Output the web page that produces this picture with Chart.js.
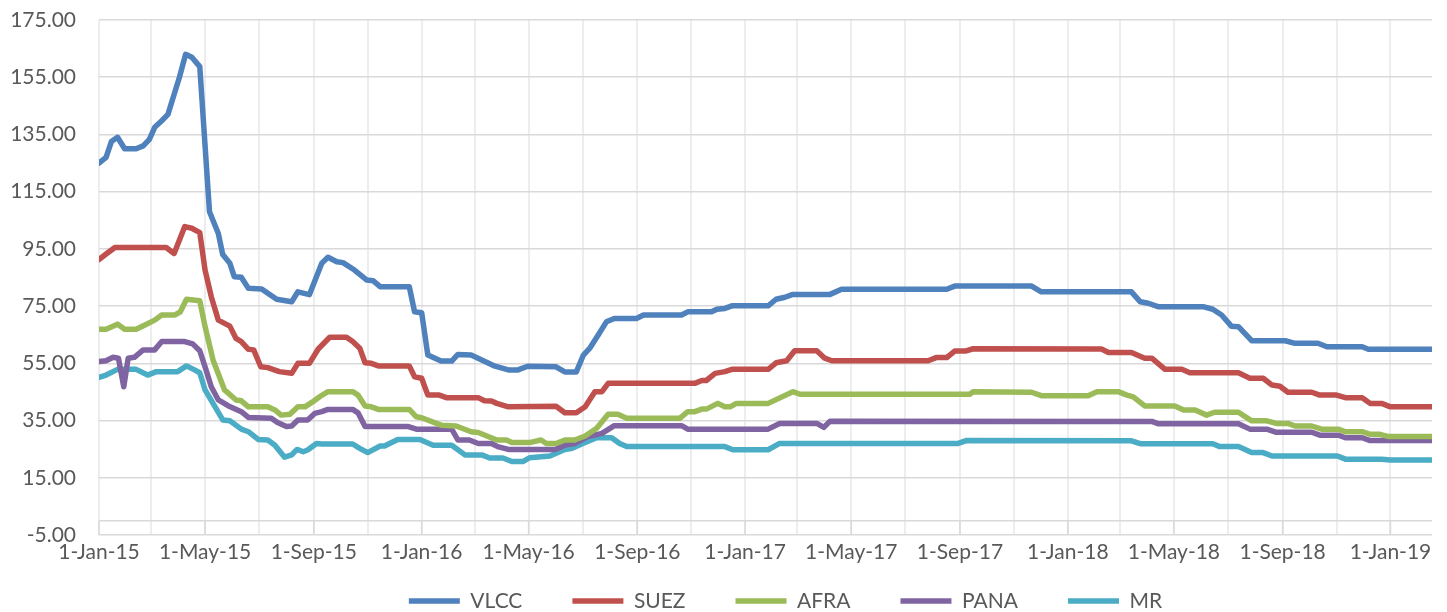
<!DOCTYPE html>
<html>
<head>
<meta charset="utf-8">
<title>Tanker rates</title>
<script src="https://cdn.jsdelivr.net/npm/chart.js@4.4.1/dist/chart.umd.min.js"></script>
<style>
  html, body { margin: 0; padding: 0; background: #fff; }
</style>
</head>
<body>
<canvas id="rateChart" width="1447" height="612"></canvas>
<script>
// Series: [date, value]
const vlcc = [
  ['2015-01-01',125],['2015-01-09',127],['2015-01-15',132.5],['2015-01-22',134],['2015-01-30',130],['2015-02-12',130],
  ['2015-02-20',131],['2015-02-27',133.3],['2015-03-05',137.5],['2015-03-13',139.8],['2015-03-20',142],['2015-03-28',150],
  ['2015-04-02',155],['2015-04-09',163],['2015-04-16',162],['2015-04-25',158.7],['2015-05-06',108],['2015-05-16',100.4],
  ['2015-05-21',93],['2015-05-29',90],['2015-06-03',85.3],['2015-06-11',85.1],['2015-06-19',81.2],['2015-07-04',81],
  ['2015-07-11',79.5],['2015-07-21',77.4],['2015-08-07',76.5],['2015-08-14',80],['2015-08-27',79],['2015-09-10',90],
  ['2015-09-17',92.1],['2015-09-27',90.5],['2015-10-04',90.2],['2015-10-17',87.6],['2015-10-31',84.1],['2015-11-07',83.9],
  ['2015-11-15',81.8],['2015-12-18',81.8],['2015-12-24',73],['2016-01-01',72.7],['2016-01-08',57.9],['2016-01-23',55.8],
  ['2016-02-04',55.8],['2016-02-11',58.1],['2016-02-26',57.9],['2016-03-24',54],['2016-04-08',52.7],['2016-04-19',52.7],
  ['2016-04-30',54],['2016-06-01',53.8],['2016-06-11',52],['2016-06-24',52],['2016-07-02',57.9],['2016-07-09',60.2],
  ['2016-07-20',65.5],['2016-07-28',69.5],['2016-08-06',70.7],['2016-08-31',70.7],['2016-09-08',71.9],['2016-10-21',71.9],
  ['2016-10-28',73],['2016-11-24',73],['2016-11-30',73.9],['2016-12-09',74.2],['2016-12-17',75.1],['2017-01-27',75.1],
  ['2017-02-05',77.4],['2017-02-15',78.1],['2017-02-24',79.1],['2017-04-07',79.1],['2017-04-20',80.9],['2017-08-17',80.9],
  ['2017-08-26',82],['2017-11-21',82],['2017-12-02',80],['2018-03-14',80],['2018-03-24',76.5],['2018-04-02',76],
  ['2018-04-13',74.8],['2018-06-03',74.8],['2018-06-14',73.9],['2018-06-24',71.9],['2018-07-05',68],['2018-07-13',67.8],
  ['2018-07-28',62.9],['2018-09-04',62.9],['2018-09-15',62],['2018-10-11',62],['2018-10-21',60.8],['2018-11-30',60.8],
  ['2018-12-07',59.9],['2019-02-17',59.9]
];

const suez = [
  ['2015-01-01',91.3],['2015-01-09',93.2],['2015-01-19',95.5],['2015-03-18',95.5],['2015-03-27',93.4],['2015-04-08',102.8],
  ['2015-04-16',102.2],['2015-04-25',100.7],['2015-05-01',87.6],['2015-05-08',78.3],['2015-05-16',70.1],['2015-05-29',68],
  ['2015-06-05',63.7],['2015-06-11',62.6],['2015-06-19',59.9],['2015-06-25',59.7],['2015-07-03',53.8],['2015-07-11',53.5],
  ['2015-07-24',52.1],['2015-08-07',51.5],['2015-08-14',55],['2015-08-27',55],['2015-09-06',60],['2015-09-19',64.1],
  ['2015-10-08',64.1],['2015-10-15',62.6],['2015-10-23',60.3],['2015-10-29',55.2],['2015-11-05',55],['2015-11-13',54.1],
  ['2015-12-18',54.1],['2015-12-24',50.3],['2016-01-01',49.8],['2016-01-08',43.9],['2016-01-21',43.9],['2016-01-29',43],
  ['2016-03-05',43],['2016-03-12',41.9],['2016-03-20',41.8],['2016-03-26',41],['2016-04-08',39.8],['2016-06-01',40],
  ['2016-06-11',37.7],['2016-06-24',37.7],['2016-07-04',39.8],['2016-07-15',45.1],['2016-07-23',45.1],['2016-07-30',48],
  ['2016-11-05',48],['2016-11-13',49],['2016-11-18',49],['2016-11-28',51.5],['2016-12-09',52.1],['2016-12-17',52.9],
  ['2017-01-27',52.9],['2017-02-05',55.2],['2017-02-17',55.9],['2017-02-26',59.4],['2017-03-23',59.4],['2017-04-01',56.8],
  ['2017-04-09',55.9],['2017-07-27',55.9],['2017-08-05',57],['2017-08-17',57],['2017-08-26',59.3],['2017-09-07',59.3],
  ['2017-09-16',60.1],['2018-02-08',60],['2018-02-16',58.8],['2018-03-14',58.8],['2018-03-29',56.8],['2018-04-06',56.8],
  ['2018-04-21',52.9],['2018-05-10',52.9],['2018-05-19',51.7],['2018-07-13',51.7],['2018-07-26',49.8],['2018-08-10',49.8],
  ['2018-08-20',47.4],['2018-08-29',47],['2018-09-07',44.9],['2018-10-04',44.9],['2018-10-13',43.9],['2018-11-01',43.9],
  ['2018-11-11',43],['2018-11-30',43],['2018-12-09',41],['2018-12-22',41],['2019-01-01',39.8],['2019-02-17',39.8]
];

const afra = [
  ['2015-01-01',66.9],['2015-01-09',66.9],['2015-01-22',68.7],['2015-01-30',66.9],['2015-02-12',66.9],['2015-02-22',68.4],
  ['2015-03-05',70.1],['2015-03-13',71.9],['2015-03-28',71.9],['2015-04-03',73],['2015-04-10',77.4],['2015-04-25',76.9],
  ['2015-05-01',67.8],['2015-05-10',56.2],['2015-05-23',45.7],['2015-06-05',42.2],['2015-06-11',41.9],['2015-06-19',39.8],
  ['2015-07-11',39.8],['2015-07-19',38.7],['2015-07-26',36.9],['2015-08-05',37.2],['2015-08-14',39.8],['2015-08-22',39.8],
  ['2015-08-31',41.6],['2015-09-08',43.4],['2015-09-17',45.1],['2015-10-15',45.1],['2015-10-21',43.9],['2015-10-29',40.1],
  ['2015-11-05',39.8],['2015-11-13',38.9],['2015-12-18',38.9],['2015-12-26',36.3],['2016-01-01',36],['2016-01-23',33.4],
  ['2016-02-09',33.1],['2016-02-26',31.1],['2016-03-05',30.8],['2016-03-26',28.2],['2016-04-06',28.2],['2016-04-12',27.3],
  ['2016-05-02',27.3],['2016-05-15',28.2],['2016-05-21',27],['2016-06-01',27],['2016-06-11',28.2],['2016-06-22',28.2],
  ['2016-07-04',29.6],['2016-07-17',32.3],['2016-07-30',37.2],['2016-08-10',37.2],['2016-08-20',35.8],['2016-10-19',35.8],
  ['2016-10-28',38.1],['2016-11-05',38.1],['2016-11-13',39],['2016-11-18',39],['2016-12-01',41],['2016-12-09',39.8],
  ['2016-12-15',39.8],['2016-12-22',41],['2017-01-27',41],['2017-02-24',45.1],['2017-03-04',44.2],['2017-09-12',44.2],
  ['2017-09-16',45.1],['2017-11-21',44.9],['2017-12-02',43.7],['2018-01-24',43.7],['2018-02-03',45.1],['2018-02-27',45.1],
  ['2018-03-09',43.9],['2018-03-16',43.3],['2018-03-29',40.1],['2018-05-02',40.1],['2018-05-12',38.7],['2018-05-25',38.7],
  ['2018-06-07',36.9],['2018-06-16',37.9],['2018-07-13',37.9],['2018-07-28',34.9],['2018-08-14',34.9],['2018-08-25',34],
  ['2018-09-07',34],['2018-09-15',33.1],['2018-10-04',33.1],['2018-10-15',32],['2018-11-03',32],['2018-11-11',31.1],
  ['2018-11-30',31.1],['2018-12-09',30.2],['2018-12-20',30.2],['2018-12-30',29.4],['2019-02-17',29.4]
];

const pana = [
  ['2015-01-01',55.6],['2015-01-09',55.9],['2015-01-17',57.1],['2015-01-23',56.8],['2015-01-29',46.8],['2015-02-03',56.8],
  ['2015-02-10',57.1],['2015-02-20',59.7],['2015-03-05',59.7],['2015-03-13',62.6],['2015-04-08',62.6],['2015-04-17',61.8],
  ['2015-04-25',59.4],['2015-05-01',53.8],['2015-05-08',46.8],['2015-05-16',42.2],['2015-05-27',40.2],['2015-06-11',38.1],
  ['2015-06-19',36.1],['2015-07-15',35.8],['2015-07-22',34.3],['2015-08-01',32.9],['2015-08-07',33.1],['2015-08-14',35.2],
  ['2015-08-25',35.2],['2015-09-02',37.5],['2015-09-10',38.1],['2015-09-17',38.9],['2015-10-15',38.9],['2015-10-21',37.7],
  ['2015-10-29',32.9],['2015-12-17',32.9],['2015-12-26',32],['2016-02-04',32],['2016-02-11',28.2],['2016-02-24',28.2],
  ['2016-03-05',27],['2016-03-20',27],['2016-03-27',25.9],['2016-04-08',24.9],['2016-05-31',24.9],['2016-06-11',26.4],
  ['2016-06-22',27],['2016-07-07',29.4],['2016-07-23',30.5],['2016-08-06',33.2],['2016-10-21',33.2],['2016-10-28',32],
  ['2017-01-27',32],['2017-02-09',34],['2017-03-23',34],['2017-03-31',32.6],['2017-04-07',34.8],['2018-04-06',34.7],
  ['2018-04-13',33.9],['2018-07-13',33.9],['2018-07-26',32],['2018-08-14',32],['2018-08-25',30.9],['2018-10-04',30.9],
  ['2018-10-13',29.9],['2018-11-03',29.9],['2018-11-11',29],['2018-11-30',29],['2018-12-09',28],['2019-02-17',28]
];

const mr = [
  ['2015-01-01',50.1],['2015-01-09',50.9],['2015-01-22',52.9],['2015-02-12',52.9],['2015-02-25',50.9],['2015-03-07',52.1],
  ['2015-03-31',52.1],['2015-04-10',54.1],['2015-04-19',52.7],['2015-04-25',51.7],['2015-05-01',45.7],['2015-05-10',41],
  ['2015-05-21',35.2],['2015-05-29',34.9],['2015-06-11',32],['2015-06-19',31.1],['2015-06-30',28.4],['2015-07-11',28.2],
  ['2015-07-19',26.4],['2015-07-30',22.2],['2015-08-07',23],['2015-08-13',24.9],['2015-08-20',24.1],['2015-08-25',24.7],
  ['2015-09-04',27],['2015-09-10',26.8],['2015-10-15',26.8],['2015-10-23',25.3],['2015-11-01',23.8],['2015-11-15',26.1],
  ['2015-11-20',26.1],['2015-12-05',28.4],['2015-12-30',28.4],['2016-01-14',26.4],['2016-02-04',26.4],['2016-02-19',23],
  ['2016-03-09',23],['2016-03-18',21.9],['2016-04-02',21.9],['2016-04-12',20.7],['2016-04-25',20.7],['2016-05-02',22],
  ['2016-05-25',22.6],['2016-06-11',24.9],['2016-06-18',25.2],['2016-07-04',27.3],['2016-07-17',29],['2016-08-03',29],
  ['2016-08-12',27],['2016-08-20',25.9],['2016-12-09',25.9],['2016-12-18',24.8],['2017-01-27',24.8],['2017-02-09',27],
  ['2017-08-30',27],['2017-09-08',28],['2018-03-14',27.9],['2018-03-24',26.9],['2018-06-14',26.9],['2018-06-22',25.9],
  ['2018-07-13',25.9],['2018-07-28',23.8],['2018-08-10',23.8],['2018-08-20',22.6],['2018-11-02',22.6],['2018-11-11',21.5],
  ['2018-12-22',21.5],['2019-01-01',21.2],['2019-02-17',21.2]
];

const seriesNames = ['VLCC', 'SUEZ', 'AFRA', 'PANA', 'MR'];
const seriesColors = ['#4f81bd', '#c0504d', '#9bbb59', '#8064a2', '#4bacc6'];
const monthNames = ['Jan','Feb','Mar','Apr','May','Jun','Jul','Aug','Sep','Oct','Nov','Dec'];
const axisStart = '2015-01-01';
const axisEnd = '2019-02-17';
const yTicks = { min: -5, max: 175, step: 20 };

// dates -> days since axisStart so a linear axis can be used without a date adapter
const DAY_MS = 86400000;
function toDay(s) {
  const [y, m, d] = s.split('-').map(Number);
  const [y0, m0, d0] = axisStart.split('-').map(Number);
  return (Date.UTC(y, m - 1, d) - Date.UTC(y0, m0 - 1, d0)) / DAY_MS;
}
function fromDay(n) {
  const [y0, m0, d0] = axisStart.split('-').map(Number);
  return new Date(Date.UTC(y0, m0 - 1, d0) + n * DAY_MS);
}

const textColor = '#595959';
const font = { family: 'Lato, "Open Sans", sans-serif', size: 21 };

// horizontal axis crosses at 0, with tick marks down to the bottom
const zeroLine = {
  id: 'zeroLine',
  beforeDatasetsDraw(chart) {
    const { ctx, chartArea, scales: { x, y } } = chart;
    const y0 = y.getPixelForValue(0);
    const yb = y.getPixelForValue(y.min);
    ctx.save();
    ctx.strokeStyle = '#d9d9d9';
    ctx.lineWidth = 1.5;
    ctx.beginPath();
    ctx.moveTo(chartArea.left, y0);
    ctx.lineTo(chartArea.right, y0);
    x.ticks.forEach(t => {
      if (fromDay(t.value).getUTCMonth() % 4 === 0) {
        const px = x.getPixelForValue(t.value);
        ctx.moveTo(px, y0);
        ctx.lineTo(px, yb);
      }
    });
    ctx.stroke();
    ctx.restore();
  }
};

// the wide legend padding needs more room than is left under the axis:
// stretch the legend box upward (over the empty lower part of the axis box)
// and nudge it right so it sits where the original one does
const legendLift = {
  id: 'legendLift',
  afterLayout(chart) {
    const lg = chart.legend;
    lg.top -= 34.5;
    lg.height = lg.bottom - lg.top;
    lg.left += 40;
    lg.width = lg.right - lg.left;
  }
};

const datasets = [vlcc, suez, afra, pana, mr].map((rows, i) => ({
  label: seriesNames[i],
  data: rows.map(r => ({ x: toDay(r[0]), y: r[1] })),
  borderColor: seriesColors[i],
  backgroundColor: seriesColors[i],
  borderWidth: 5.5,
  borderCapStyle: 'round',
  borderJoinStyle: 'round',
  pointRadius: 0,
  tension: 0,
  fill: false
}));

const ctx = document.getElementById('rateChart').getContext('2d');
new Chart(ctx, {
  type: 'line',
  data: { datasets },
  plugins: [zeroLine, legendLift],
  options: {
    responsive: false,
    animation: false,
    layout: { padding: { top: 20, right: 15, left: 0, bottom: 0 } },
    scales: {
      x: {
        type: 'linear',
        min: toDay(axisStart),
        max: toDay(axisEnd),
        afterBuildTicks(scale) {
          const ticks = [];
          const end = fromDay(scale.max);
          for (let y = 2015; y <= end.getUTCFullYear(); y++) {
            for (let m = 0; m < 12; m += 2) {
              const d = toDay(`${y}-${String(m + 1).padStart(2, '0')}-01`);
              if (d <= scale.max) ticks.push({ value: d });
            }
          }
          scale.ticks = ticks;
        },
        afterFit(scale) { scale.height = 40; },
        border: { display: false },
        grid: { color: '#ededed', lineWidth: 2, drawTicks: false },
        ticks: {
          autoSkip: false,
          maxRotation: 0,
          minRotation: 0,
          padding: 5,
          color: textColor,
          font,
          callback(value) {
            const d = fromDay(value);
            if (d.getUTCMonth() % 4 !== 0) return '';
            return `1-${monthNames[d.getUTCMonth()]}-${String(d.getUTCFullYear()).slice(2)}`;
          }
        }
      },
      y: {
        min: yTicks.min,
        max: yTicks.max,
        afterFit(scale) { scale.width = 99; },
        border: { display: false },
        // invisible tick marks give the label gap without adding top padding
        grid: { color: '#d9d9d9', lineWidth: 1.5, drawTicks: true, tickLength: 20, tickColor: 'rgba(0,0,0,0)' },
        ticks: {
          stepSize: yTicks.step,
          padding: 3,
          color: textColor,
          font,
          callback: v => v.toFixed(2)
        }
      }
    },
    plugins: {
      tooltip: { enabled: false },
      legend: {
        position: 'bottom',
        fullSize: false,
        maxHeight: 37,
        labels: {
          usePointStyle: true,
          pointStyle: 'line',
          pointStyleWidth: 51,
          padding: 50,
          color: textColor,
          font
        }
      }
    }
  }
});
</script>
</body>
</html>
